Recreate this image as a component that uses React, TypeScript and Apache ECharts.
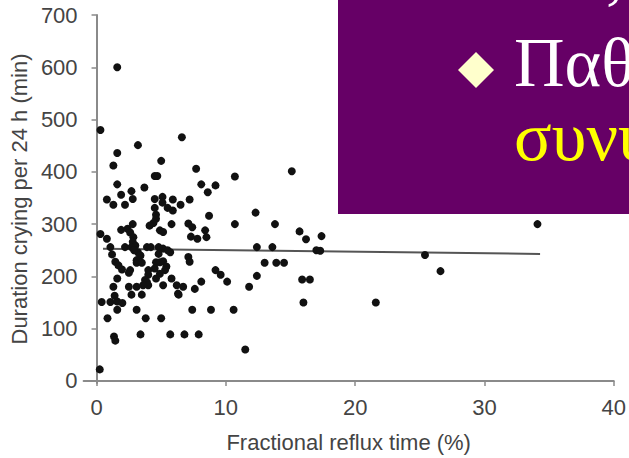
import React, { useEffect, useRef } from "react";
import * as echarts from "echarts";

// x: fractional reflux time (%), y: duration crying per 24 h (min)
const highBand: [number, number][] = [
  [1.6, 600], [0.3, 480], [6.6, 466], [3.2, 451], [1.6, 436], [5.0, 421], [1.3, 412],
  [7.7, 406], [15.1, 401], [4.5, 392], [4.7, 392], [10.7, 391], [1.6, 376], [8.1, 376],
  [9.2, 374], [3.7, 370], [2.7, 363], [8.6, 361],
];
const upperBand: [number, number][] = [
  [1.9, 356], [5.1, 352], [0.8, 347], [2.8, 348], [4.5, 348], [5.9, 347], [7.2, 347],
  [5.1, 341], [1.3, 337], [2.2, 337], [6.5, 337], [4.5, 331], [5.5, 331], [5.9, 326],
  [12.3, 322], [4.6, 318], [8.7, 316], [4.6, 310], [4.4, 302], [5.8, 300], [7.1, 301],
  [10.7, 300], [13.8, 300], [2.8, 300], [4.1, 297], [7.4, 294],
];
const middleBand: [number, number][] = [
  [0.3, 281], [0.8, 272], [1.9, 289], [2.4, 291], [2.6, 284], [2.85, 275], [2.8, 266],
  [3.0, 259], [4.9, 288], [5.15, 285], [8.4, 288], [7.3, 276], [7.8, 272], [8.5, 275],
  [15.7, 286], [16.2, 271], [17.4, 277], [5.15, 253], [1.07, 256], [2.2, 256], [2.7, 256],
  [3.9, 256], [4.2, 256], [4.8, 256], [5.5, 250], [12.4, 256], [13.6, 256], [17.0, 250],
  [17.3, 249], [25.4, 241], [34.1, 300],
];
const lowerBand: [number, number][] = [
  [1.2, 242], [3.2, 246], [3.4, 240], [4.8, 243], [5.7, 246], [2.9, 250], [7.1, 237],
  [7.2, 228], [3.1, 231], [1.45, 228], [1.7, 221], [1.97, 213], [3.1, 226], [3.5, 226],
  [4.6, 227], [4.9, 227], [5.15, 229], [5.4, 219], [5.3, 212], [4.0, 212], [4.0, 203],
  [4.5, 215], [4.9, 205], [2.6, 212], [2.5, 207], [9.2, 212], [9.6, 203], [13.0, 226],
  [13.9, 226], [14.5, 226], [12.4, 201], [26.6, 210],
];
const bottomBand: [number, number][] = [
  [1.6, 196], [3.75, 193], [3.9, 189], [4.0, 183], [4.6, 196], [5.8, 196], [5.15, 183],
  [6.2, 183], [6.7, 180], [6.3, 167], [7.6, 176], [8.1, 190], [10.1, 190], [11.8, 180],
  [15.9, 194], [16.5, 194], [1.3, 180], [2.5, 180], [3.1, 180], [3.6, 183], [1.4, 163],
  [2.7, 165], [3.5, 165], [6.35, 165], [1.07, 151], [0.4, 151], [1.6, 152], [2.0, 149],
  [16.0, 150], [21.6, 150], [0.85, 120], [3.8, 120], [5.0, 120], [1.6, 136], [3.1, 136],
  [7.4, 136], [8.85, 136], [10.6, 136], [1.35, 85], [1.45, 77], [3.4, 89], [5.7, 89],
  [6.8, 89], [7.9, 89], [11.5, 60], [0.25, 22],
];

const trendLine: [number, number][] = [[0.5, 253], [34.3, 243]];

const xTicks = [0, 10, 20, 30, 40];
const yTicks = [0, 100, 200, 300, 400, 500, 600, 700];

const xTitle = "Fractional reflux time (%)";
const yTitle = "Duration crying per 24 h (min)";
const slideLine1 = "Παθολογική";
const slideLine2 = "συνυπάρχουσα";

export default function App() {
  const ref = useRef<HTMLDivElement>(null);

  useEffect(() => {
    if (!ref.current) return;
    const chart = echarts.init(ref.current, undefined, { renderer: "svg" });
    const labelFont = "'Liberation Sans', Arial, sans-serif";
    const serif = "'Liberation Serif', 'DejaVu Serif', serif";
    const allPoints = [...highBand, ...upperBand, ...middleBand, ...lowerBand, ...bottomBand];

    chart.setOption({
      animation: false,
      backgroundColor: "#ffffff",
      grid: { left: 83, right: 10, top: 15, bottom: 73 },
      xAxis: {
        type: "value",
        min: -1,
        max: 40,
        name: xTitle,
        nameLocation: "middle",
        nameGap: 48,
        nameTextStyle: { color: "#444", fontSize: 22, fontFamily: labelFont },
        axisLine: { show: true, lineStyle: { color: "#8a8a8a", width: 2 } },
        axisTick: { show: true, length: 5, customValues: xTicks, lineStyle: { color: "#8a8a8a", width: 1.5 } },
        axisLabel: { customValues: xTicks, margin: 13, color: "#444", fontSize: 22, fontFamily: labelFont },
        splitLine: { show: false },
      },
      yAxis: {
        type: "value",
        min: -4,
        max: 700,
        name: yTitle,
        nameLocation: "middle",
        nameGap: 50,
        nameTextStyle: { color: "#444", fontSize: 22, fontFamily: labelFont },
        axisLine: { show: true, lineStyle: { color: "#8a8a8a", width: 2 } },
        axisTick: { show: true, length: 5, customValues: yTicks, lineStyle: { color: "#8a8a8a", width: 1.5 } },
        axisLabel: { customValues: yTicks, margin: 6, color: "#444", fontSize: 22, fontFamily: labelFont },
        splitLine: { show: false },
      },
      series: [
        {
          type: "line",
          data: trendLine,
          symbol: "none",
          lineStyle: { color: "#555", width: 2 },
          z: 1,
        },
        {
          type: "scatter",
          data: allPoints,
          symbol: "circle",
          symbolSize: 8,
          itemStyle: { color: "#111", opacity: 1 },
          z: 2,
        },
      ],
      graphic: [
        {
          type: "rect",
          shape: { x: 338, y: -10, width: 300, height: 224 },
          style: { fill: "#660066" },
          z: 10,
        },
        {
          type: "polygon",
          shape: { points: [[476, 52], [494, 70], [476, 88], [458, 70]] },
          style: { fill: "#ffffcc" },
          z: 11,
        },
        {
          type: "text",
          x: 514,
          y: 62,
          style: { text: slideLine1, fill: "#ffffff", font: `70px ${serif}`, verticalAlign: "middle", align: "left" },
          z: 11,
        },
        {
          type: "text",
          x: 514,
          y: 136,
          style: { text: slideLine2, fill: "#ffff00", font: `70px ${serif}`, verticalAlign: "middle", align: "left" },
          z: 11,
        },
        {
          type: "text",
          x: 606,
          y: -28,
          style: { text: ",", fill: "#ffffff", font: `70px ${serif}`, verticalAlign: "middle", align: "left" },
          z: 11,
        },
      ],
    });
    return () => chart.dispose();
  }, []);

  return (
    <div
      ref={ref}
      style={{ position: "fixed", left: 0, top: 0, width: 629, height: 458, background: "#fff" }}
    />
  );
}
